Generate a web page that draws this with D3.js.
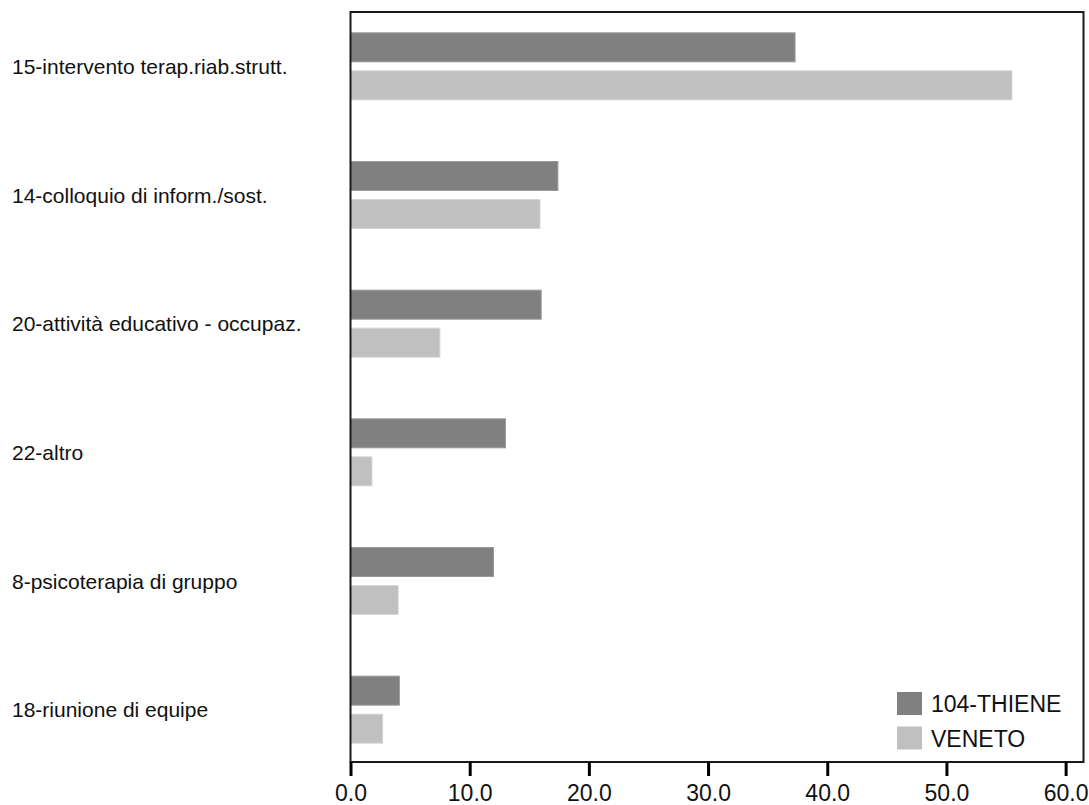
<!DOCTYPE html>
<html><head><meta charset="utf-8">
<script src="https://cdn.jsdelivr.net/npm/d3@7"></script>
<style>
html,body{margin:0;padding:0;background:#fff;}
svg{display:block;}
text{font-family:"Liberation Sans",Arial,sans-serif;fill:#111;}
</style></head>
<body>
<svg id="chart" width="1089" height="805"></svg>
<script>
const categories = ["15-intervento terap.riab.strutt.","14-colloquio di inform./sost.","20-attività educativo - occupaz.","22-altro","8-psicoterapia di gruppo","18-riunione di equipe"];
const seriesNames = ["104-THIENE","VENETO"];
const thieneValues = [37.3, 17.4, 16.0, 13.0, 12.0, 4.1];
const venetoValues = [55.5, 15.9, 7.5, 1.8, 4.0, 2.7];
const tickValues = [0,10,20,30,40,50,60];
const colors = ["#808080","#c0c0c0"];

(function(){
const svg = d3.select("#chart");
const pLeft = 350.5, pRight = 1083.5, pTop = 12, pBottom = 762;
const x = d3.scaleLinear().domain([0, 61.5]).range([pLeft, pRight]);
const y = d3.scaleBand().domain(categories).range([2, 774]).padding(0);
const inner = d3.scaleBand().domain(seriesNames).range([-33.5, 33.5]).paddingInner(0.237).paddingOuter(0);

const data = categories.map((c,i)=>({cat:c, vals:[thieneValues[i], venetoValues[i]]}));

const g = svg.append("g");
const groups = g.selectAll("g.grp").data(data).join("g").attr("class","grp")
  .attr("transform", d=>`translate(0,${y(d.cat)+y.bandwidth()/2})`);
groups.selectAll("rect").data(d=>d.vals.map((v,j)=>({v, s:seriesNames[j], j})))
  .join("rect")
  .attr("x", x(0))
  .attr("y", d=>inner(d.s))
  .attr("width", d=>x(d.v)-x(0))
  .attr("height", inner.bandwidth())
  .attr("fill", d=>colors[d.j])
  .attr("stroke", d=>d.j===0?"#999":"#d6d6d6")
  .attr("stroke-width",1);

groups.append("text")
  .attr("x", 12)
  .attr("y", 7.5)
  .attr("font-size", "21px")
  .text(d=>d.cat);

svg.append("rect")
  .attr("x", pLeft).attr("y", pTop)
  .attr("width", pRight-pLeft).attr("height", pBottom-pTop)
  .attr("fill","none").attr("stroke","#1a1a1a").attr("stroke-width",2);

const axis = d3.axisBottom(x).tickValues(tickValues).tickSize(14).tickPadding(9)
  .tickFormat(d3.format(".1f"));
const ax = svg.append("g").attr("transform",`translate(0,${pBottom})`).call(axis);
ax.select(".domain").remove();
ax.selectAll(".tick line").attr("stroke","#000").attr("stroke-width",3);
ax.selectAll(".tick text").attr("font-size","23px").attr("fill","#111")
  .style("font-family","'Liberation Sans',Arial,sans-serif");

const lg = svg.append("g").attr("transform","translate(897,692)");
const li = lg.selectAll("g").data(seriesNames).join("g")
  .attr("transform",(d,i)=>`translate(0,${i*34.5})`);
li.append("rect").attr("width",25).attr("height",23).attr("fill",(d,i)=>colors[i]);
li.append("text").attr("x",34).attr("y",20).attr("font-size","23px").text(d=>d);
})();
</script>
</body></html>
